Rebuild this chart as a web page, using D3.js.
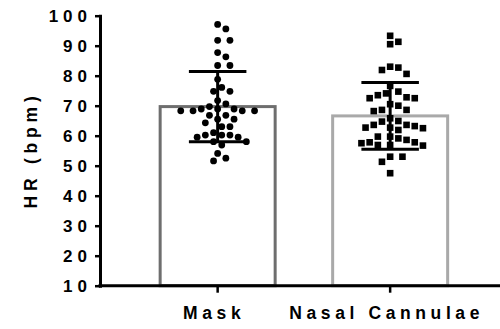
<!DOCTYPE html>
<html lang="en">
<head>
<meta charset="UTF-8">
<title>HR</title>
<style>
	body{margin:0;background:#fff;}
	svg text{font-family:"Liberation Sans",Arial,sans-serif;font-weight:bold;fill:#000;}
</style>
</head>
<body>
<script src="https://cdn.jsdelivr.net/npm/d3@7/dist/d3.min.js"></script>
<script>
	// data
	var categories=['Mask','Nasal Cannulae'];
	var means=[69.7,66.6];
	var sds=[11.7,11.1];
	var maskValues=[97.1,95.6,91.8,91.8,87.7,86.3,83.4,83.4,78.8,76.1,74.8,74.8,
		71.7,70.6,69.7,68.9,68.9,68.9,68.3,68.3,68.3,68.3,66.8,66.8,65.5,65.5,64.3,
		63,63,61,60.2,60.2,60.2,59.5,59.5,58,58,56.9,54.1,52.5,51.6];
	var nasalValues=[93.3,91.3,90.5,83,82.7,81.9,80.6,76.6,74.7,74.1,73.5,72.8,72.5,72.5,
		70.5,70,68.6,68.6,68.2,65.8,64.9,64.7,63.6,63.6,63.2,62.7,62.7,62.5,61.9,
		59.7,59.7,59.1,58.6,57.8,57.8,57.5,56.9,56.9,56.7,53,53,51.3,47.5];
	var yTicks=[10,20,30,40,50,60,70,80,90,100];

	var width=500;
	var height=329;
	var svg=d3.select('body')
			.append('svg')
			.attr('width',width)
			.attr('height',height);

	var padding={left:100,right:500,top:15.7,bottom:285.7};

	var yScale=d3.scaleLinear()
			.domain([10,100])
			.range([padding.bottom,padding.top]);
	var xScale=d3.scaleBand()
			.domain(categories)
			.range([131.4,476.4])
			.paddingInner(1/3)
			.paddingOuter(1/6);

	var barColors=['#6e6e6e','#a9a9a9'];

	// bars
	svg.selectAll('.bar')
		.data(categories)
		.enter()
		.append('rect')
		.attr('class','bar')
		.attr('x',function(d){ return xScale(d); })
		.attr('y',function(d,i){ return yScale(means[i]); })
		.attr('width',xScale.bandwidth())
		.attr('height',function(d,i){ return padding.bottom-yScale(means[i]); })
		.attr('fill','#fff')
		.attr('stroke',function(d,i){ return barColors[i]; })
		.attr('stroke-width',3);

	// simple beeswarm so equal values sit side by side
	function swarm(values,cx,diam){
		var placed=[];
		values.slice().sort(d3.descending).forEach(function(v){
			var y=yScale(v);
			for(var k=0;k<40;k++){
				var off=(k%2? 1:-1)*Math.ceil(k/2)*diam/2;
				var x=cx+off;
				var hit=placed.some(function(p){
					return Math.hypot(p.x-x,p.y-y)<diam;
				});
				if(!hit){ placed.push({x:x,y:y,v:v}); break; }
			}
		});
		return placed;
	}

	var cMask=xScale('Mask')+xScale.bandwidth()/2;
	var cNasal=xScale('Nasal Cannulae')+xScale.bandwidth()/2;

	svg.selectAll('.dot')
		.data(swarm(maskValues,cMask,8.2))
		.enter()
		.append('circle')
		.attr('class','dot')
		.attr('cx',function(d){ return d.x; })
		.attr('cy',function(d){ return d.y; })
		.attr('r',3.4)
		.attr('fill','#000');

	var sq=6.6;
	svg.selectAll('.sq')
		.data(swarm(nasalValues,cNasal,8.2))
		.enter()
		.append('rect')
		.attr('class','sq')
		.attr('x',function(d){ return d.x-sq/2; })
		.attr('y',function(d){ return d.y-sq/2; })
		.attr('width',sq)
		.attr('height',sq)
		.attr('fill','#000');

	// error bars (mean +/- SD)
	var capW=xScale.bandwidth()/2;
	var err=svg.selectAll('.err')
		.data(categories)
		.enter()
		.append('g')
		.attr('class','err')
		.attr('stroke','#000')
		.attr('stroke-width',3);
	err.append('line')
		.attr('x1',function(d){ return xScale(d)+xScale.bandwidth()/2; })
		.attr('x2',function(d){ return xScale(d)+xScale.bandwidth()/2; })
		.attr('y1',function(d,i){ return yScale(means[i]+sds[i]); })
		.attr('y2',function(d,i){ return yScale(means[i]-sds[i]); });
	err.append('line')
		.attr('x1',function(d){ return xScale(d)+xScale.bandwidth()/2-capW/2; })
		.attr('x2',function(d){ return xScale(d)+xScale.bandwidth()/2+capW/2; })
		.attr('y1',function(d,i){ return yScale(means[i]+sds[i]); })
		.attr('y2',function(d,i){ return yScale(means[i]+sds[i]); });
	err.append('line')
		.attr('x1',function(d){ return xScale(d)+xScale.bandwidth()/2-capW/2; })
		.attr('x2',function(d){ return xScale(d)+xScale.bandwidth()/2+capW/2; })
		.attr('y1',function(d,i){ return yScale(means[i]-sds[i]); })
		.attr('y2',function(d,i){ return yScale(means[i]-sds[i]); });

	// axes
	var yAxis=d3.axisLeft(yScale)
			.tickValues(yTicks)
			.tickSize(5)
			.tickSizeOuter(0)
			.tickPadding(8);
	var gy=svg.append('g')
		.attr('class','yAxis')
		.attr('transform','translate('+padding.left+',0)')
		.call(yAxis);

	var xAxis=d3.axisBottom(xScale)
			.tickSize(7)
			.tickSizeOuter(0)
			.tickPadding(14);
	var gx=svg.append('g')
		.attr('class','xAxis')
		.attr('transform','translate(0,'+padding.bottom+')')
		.call(xAxis);
	gx.select('.domain').attr('d','M'+padding.left+',0H'+padding.right);

	svg.selectAll('.domain').attr('stroke-width',3).attr('stroke-linecap','square');
	svg.selectAll('.tick line').attr('stroke-width',2.5);

	gy.selectAll('.tick text')
		.attr('font-size','17px')
		.attr('letter-spacing','5px')
		.attr('dx','5px');
	gx.selectAll('.tick text')
		.attr('font-size','17.5px')
		.attr('letter-spacing','4.6px')
		.attr('dx','-3.5px');

	svg.append('text')
		.attr('transform','translate(37,150) rotate(-90)')
		.attr('text-anchor','middle')
		.attr('font-size','17.5px')
		.attr('letter-spacing','4.8px')
		.text('HR (bpm)');
</script>
</body>
</html>
